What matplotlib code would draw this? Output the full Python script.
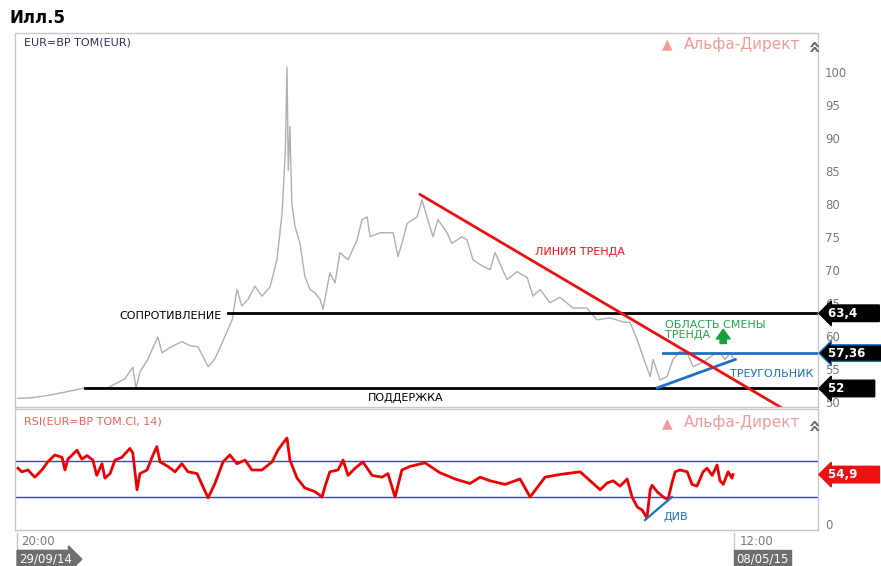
#!/usr/bin/env python3
import matplotlib
matplotlib.use("Agg")
import matplotlib.pyplot as plt
import matplotlib.transforms as mtransforms

# price (close), days since 29/09/14
PRICE_DAY = [0, 4.3, 9.9, 16, 20.6, 27.7, 33, 35.4, 36.4, 37.6, 40, 43.1, 44.4, 46.8,
             50.5, 53, 55.5, 58.6, 60.7, 62.9, 66, 67.5, 69, 70.9, 73, 75.2, 77.7,
             79.8, 81.4, 82.4, 82.9, 83.3, 83.8, 84.4, 85.4, 86.9, 88.4, 90, 91.5,
             93.1, 94, 96.1, 97.7, 99.2, 101.7, 104.5, 106, 107.6, 108.5, 111.6,
             115.6, 117.1, 118.6, 119.9, 123, 124.5, 126, 127.9, 129.4, 132.2, 133.7,
             136.8, 138.4, 140.2, 143.3, 145.5, 147, 150.7, 153.8, 156.9, 158.7,
             160.9, 163.9, 167, 171, 175.3, 178.4, 182.4, 186.4, 188.6, 190.8, 192.6,
             194.8, 195.7, 197.8, 200, 201.8, 204, 206.2, 208, 211.1, 214.2, 216.3,
             217.9, 219.4, 220.3]
PRICE = [50.5, 50.6, 51.0, 51.6, 52.1, 52.1, 53.5, 55.2, 52.0, 54.5, 56.4, 59.8, 57.4,
         58.2, 59.1, 58.5, 58.3, 55.3, 56.5, 58.9, 62.4, 67.0, 64.5, 65.5, 67.5, 66.0,
         67.4, 71.5, 78.6, 88.0, 100.7, 85.0, 91.7, 80.0, 76.5, 74.0, 69.0, 67.0,
         66.5, 65.5, 64.0, 69.5, 68.0, 72.6, 71.5, 74.5, 77.6, 78.0, 75.0, 75.6,
         75.6, 72.0, 74.5, 77.0, 78.0, 80.6, 78.0, 75.0, 77.6, 75.6, 74.0, 75.0,
         74.5, 71.5, 70.5, 70.0, 72.6, 68.5, 69.7, 68.8, 66.0, 67.0, 65.0, 65.8,
         64.2, 64.2, 62.4, 62.7, 62.1, 62.0, 59.4, 56.8, 53.8, 56.4, 53.3, 53.8,
         56.4, 57.6, 57.4, 55.3, 56.0, 57.1, 57.4, 56.4, 57.4, 56.7]

RSI_DAY = [0, 1.2, 3.1, 5.2, 7.4, 9.2, 11.4, 13.6, 14.5, 15.4, 18.2, 19.7, 21.3, 23.1,
           24.3, 25.9, 26.8, 28.4, 29.9, 32, 34.5, 35.4, 36.7, 37.6, 39.8, 41.3, 42.8,
           43.8, 46.2, 48.4, 50.5, 52.4, 55.2, 57, 58.6, 60.7, 63.2, 65.3, 67.5, 70,
           72.1, 75.2, 78.3, 80.1, 81.7, 82.9, 83.8, 86, 88.4, 91.5, 93.7, 94.6, 96.1,
           98.6, 100.2, 101.7, 103.9, 106.3, 109.1, 112.2, 114, 116.2, 118.3, 120.8,
           125.4, 130, 134.7, 139.3, 142.4, 145.5, 150.1, 154.7, 157.8, 162.4, 167,
           173.2, 179.4, 181.5, 183.4, 185.5, 187.7, 189.2, 190.8, 192.3, 193.8, 194.8,
           195.4, 196.9, 198.8, 200.3, 201.5, 202.5, 204, 206.2, 207.7, 209.2, 211.1,
           212.3, 213.9, 215.4, 216.3, 217.3, 218.8, 220, 220.3]
RSI = [62, 58, 60, 52, 60, 69, 76.7, 74, 60, 72, 82, 72, 76, 71, 54, 67, 51, 56, 71,
       74, 84, 79, 38, 56, 60, 74, 86, 69, 64, 58, 67, 58, 56, 41.5, 29, 45, 69, 76.7,
       67, 71, 60, 60, 69, 82, 90, 95.5, 71, 51, 40, 36, 30, 41.5, 58, 60, 71, 54, 62,
       69, 54, 52, 56, 30, 60, 64, 68, 57, 50, 45, 52, 48, 44, 50, 30, 52, 55, 58, 38,
       45.5, 48, 42, 50, 30, 19, 15.5, 6.7, 38, 43, 36, 30, 27, 45.5, 58, 60, 58, 44,
       42, 58, 62, 54, 65.5, 48, 44, 58, 51, 54.9]

RESISTANCE = 63.4
SUPPORT = 52.0
TRI_TOP = 57.36
RSI_LAST = 54.9
RSI_UPPER, RSI_LOWER = 70, 30

RES_START, SUP_START, TOP_START = 64.7, 20.6, 198.8
TREND_DAYS, TREND_VALS = [123.9, 240], [81.4, 47.7]
TRI_DAYS, TRI_VALS = [197, 221], [52.1, 56.4]
DIV_DAYS, DIV_VALS = [193.2, 201.5], [4.4, 30]

XMIN, XMAX = -0.9, 246.5
PRICE_TICKS = [50, 55, 60, 65, 70, 75, 80, 85, 90, 95, 100]

GRID = "#c8c8c8"
PINK = "#f49a9a"


def style_panel(ax):
    for s in ax.spines.values():
        s.set_color(GRID)
        s.set_linestyle((0, (1, 1)))
        s.set_linewidth(1)
    ax.set_xticks([])
    ax.yaxis.tick_right()
    ax.tick_params(axis="y", length=0, labelsize=8.5, labelcolor="#7a7a7a", pad=5)


def watermark(ax, y):
    ax.text(0.978, y, "Альфа-Директ", transform=ax.transAxes, ha="right", va="center",
            color=PINK, fontsize=11)
    ax.text(0.812, y, "▲", transform=ax.transAxes, ha="center", va="center",
            color=PINK, fontsize=10)
    ax.text(0.994, y, "»", transform=ax.transAxes, ha="center", va="center",
            color="#6a6a6a", fontsize=15, fontweight="bold", rotation=90)


def tag(ax, y, label, fc, ec, size=8.5):
    # pad so every tag runs out to the right edge of the picture
    tr = mtransforms.blended_transform_factory(ax.transAxes, ax.transData)
    ax.text(1.012, y, label + " " * (9 - len(label)), transform=tr, ha="left", va="center",
            color="white", fontsize=size, fontweight="bold", clip_on=False,
            bbox=dict(boxstyle="larrow,pad=0.15", fc=fc, ec=ec, lw=1))


def main():
    fig = plt.figure(figsize=(8.81, 5.66), dpi=100)
    ax = fig.add_axes([0.017, 0.281, 0.9115, 0.661])
    ax2 = fig.add_axes([0.017, 0.0636, 0.9115, 0.2138])

    # price panel
    ax.plot(PRICE_DAY, PRICE, color="#b0b0b0", lw=1.0)
    ax.plot([RES_START, XMAX], [RESISTANCE] * 2, color="black", lw=2)
    ax.plot([SUP_START, XMAX], [SUPPORT] * 2, color="black", lw=2)
    ax.plot([TOP_START, XMAX], [TRI_TOP] * 2, color="#1f6fc8", lw=2)
    ax.plot(TRI_DAYS, TRI_VALS, color="#1f6fc8", lw=2)
    ax.plot(TREND_DAYS, TREND_VALS, color="#ee1111", lw=2)

    ax.text(62.9, 63.0, "СОПРОТИВЛЕНИЕ", ha="right", va="center", fontsize=8, color="black")
    ax.text(107.9, 50.6, "ПОДДЕРЖКА", ha="left", va="center", fontsize=8, color="black")
    ax.text(159.3, 72.7, "ЛИНИЯ ТРЕНДА", ha="left", va="center", fontsize=8, color="#ee1111")
    ax.text(199.4, 60.9, "ОБЛАСТЬ СМЕНЫ\nТРЕНДА", ha="left", va="center", fontsize=8,
            color="#22a84a", linespacing=1.05)
    ax.annotate("", xy=(217.3, 61.4), xytext=(217.3, 58.4),
                arrowprops=dict(arrowstyle="simple,head_width=1.0,head_length=0.7,tail_width=0.45",
                                color="#18a040"))
    ax.text(219.4, 54.2, "ТРЕУГОЛЬНИК", ha="left", va="center", fontsize=8, color="#2070c0")

    ax.text(0.011, 0.973, "EUR=BP TOM(EUR)", transform=ax.transAxes, ha="left", va="center",
            fontsize=8, color="#303060")
    watermark(ax, 0.97)

    ax.set_xlim(XMIN, XMAX)
    ax.set_ylim(49.2, 105.9)
    ax.set_yticks(PRICE_TICKS)
    style_panel(ax)

    tag(ax, RESISTANCE, "63,4", "black", "black")
    tag(ax, TRI_TOP, "57,36", "black", "#1f6fc8")
    tag(ax, SUPPORT, "52", "black", "black")

    # RSI panel
    ax2.axhline(RSI_UPPER, color="#3a3aff", lw=1)
    ax2.axhline(RSI_LOWER, color="#3a3aff", lw=1)
    ax2.plot(RSI_DAY, RSI, color="#ee0000", lw=2)
    ax2.plot(DIV_DAYS, DIV_VALS, color="#2070c0", lw=1.6)
    ax2.text(198.8, 7.8, "ДИВ", ha="left", va="center", fontsize=8, color="#2070c0")
    ax2.text(0.011, 0.9, "RSI(EUR=BP TOM.Cl, 14)", transform=ax2.transAxes, ha="left",
             va="center", fontsize=8, color="#f06060")
    watermark(ax2, 0.885)
    ax2.set_xlim(XMIN, XMAX)
    ax2.set_ylim(-6.7, 127.8)
    ax2.set_yticks([0])
    style_panel(ax2)
    tag(ax2, RSI_LAST, "54,9", "#ee1111", "#ee1111")

    # header and time axis
    fig.text(0.011, 0.968, "Илл.5", ha="left", va="center", fontsize=12, fontweight="bold")
    fig.text(0.024, 0.044, "20:00", ha="left", va="center", fontsize=8.5, color="#7a7a7a")
    fig.text(0.840, 0.044, "12:00", ha="left", va="center", fontsize=8.5, color="#7a7a7a")
    fig.add_artist(plt.Line2D([0.0193, 0.0193], [0.03, 0.058], color=GRID, lw=1))
    fig.add_artist(plt.Line2D([0.833, 0.833], [0.03, 0.058], color=GRID, lw=1))
    fig.text(0.022, 0.012, "29/09/14", ha="left", va="center", fontsize=8.5, color="white",
             bbox=dict(boxstyle="rarrow,pad=0.2", fc="#6e6e6e", ec="#6e6e6e"))
    fig.text(0.836, 0.012, "08/05/15", ha="left", va="center", fontsize=8.5, color="white",
             bbox=dict(boxstyle="square,pad=0.2", fc="#6e6e6e", ec="#6e6e6e"))

    fig.savefig("out.png", dpi=100)


if __name__ == "__main__":
    main()
